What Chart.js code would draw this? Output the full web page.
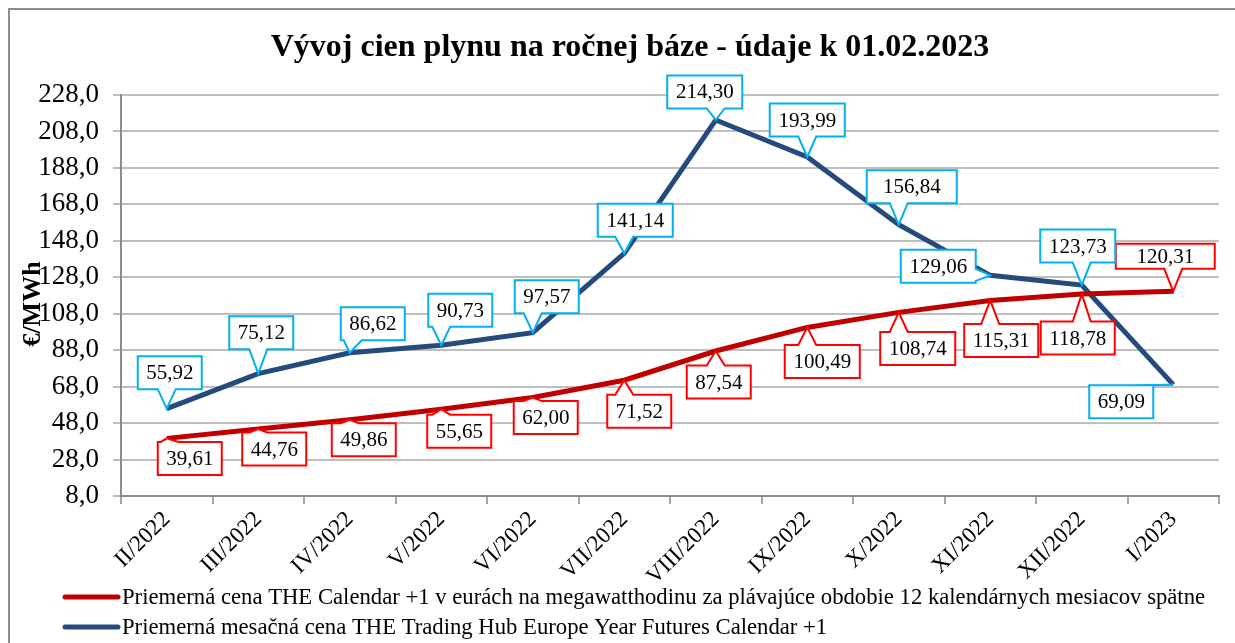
<!DOCTYPE html>
<html>
<head>
<meta charset="utf-8">
<script src="https://cdn.jsdelivr.net/npm/chart.js@4/dist/chart.umd.min.js"></script>
<style>
  html, body { margin: 0; padding: 0; background: #fff; }
  #wrap { width: 1235px; height: 643px; }
</style>
</head>
<body>
<div id="wrap"><canvas id="gasChart"></canvas></div>
<script>
// data
const months = ['II/2022', 'III/2022', 'IV/2022', 'V/2022', 'VI/2022', 'VII/2022',
    'VIII/2022', 'IX/2022', 'X/2022', 'XI/2022', 'XII/2022', 'I/2023'];
const rollingAvg = [39.61, 44.76, 49.86, 55.65, 62.00, 71.52, 87.54, 100.49, 108.74, 115.31, 118.78, 120.31];
const monthlyAvg = [55.92, 75.12, 86.62, 90.73, 97.57, 141.14, 214.30, 193.99, 156.84, 129.06, 123.73, 69.09];
const yTicks = [8, 28, 48, 68, 88, 108, 128, 148, 168, 188, 208, 228];

const chartTitle = 'Vývoj cien plynu na ročnej báze - údaje k 01.02.2023';
const rollingLabel = 'Priemerná cena THE Calendar +1 v eurách na megawatthodinu za plávajúce obdobie 12 kalendárnych mesiacov spätne';
const monthlyLabel = 'Priemerná mesačná cena THE Trading Hub Europe Year Futures Calendar +1';

// callout box placement relative to its point: [dx, dy, width?, height?]
const rollingCallouts = [[23, 20], [16, 20], [14, 20], [18, 22], [13, 20], [15, 31],
    [3, 31], [15, 34], [19, 36], [11, 40], [-4, 44], [-8, -35, 99, 25]];
const monthlyCallouts = [[3, -36], [3, -41], [23, -29], [19, -35], [14, -36], [11, -33],
    [-11, -28], [0, -37], [13, -38, 90], [-52, -9], [-4, -39], [-52, 17]];

const serif = "'Liberation Serif', 'Times New Roman', serif";

function fmt(v, d) {
    return v.toFixed(d).replace('.', ',');
}

// Excel-like callout: rectangle with a pointer running to the data point
function drawCallout(ctx, text, px, py, c, stroke) {
    ctx.font = '21px ' + serif;
    const w = c[2] || Math.round(ctx.measureText(text).width + 17);
    const h = c[3] || 33;
    const cx = px + c[0], cy = py + c[1];
    const l = cx - w / 2, r = cx + w / 2, t = cy - h / 2, b = cy + h / 2;

    let side;
    if (py > b) side = 'bottom';
    else if (py < t) side = 'top';
    else if (px > r) side = 'right';
    else side = 'left';

    const clamp = (v, a, z) => Math.max(a, Math.min(z, v));
    ctx.beginPath();
    ctx.moveTo(l, t);
    if (side === 'top') {
        const m = clamp(px, l + 12, r - 12);
        ctx.lineTo(m - 9, t); ctx.lineTo(px, py); ctx.lineTo(m + 9, t);
    }
    ctx.lineTo(r, t);
    if (side === 'right') {
        const m = clamp(py, t + 8, b - 8);
        ctx.lineTo(r, m - 6); ctx.lineTo(px, py); ctx.lineTo(r, m + 6);
    }
    ctx.lineTo(r, b);
    if (side === 'bottom') {
        const m = clamp(px, l + 12, r - 12);
        ctx.lineTo(m + 9, b); ctx.lineTo(px, py); ctx.lineTo(m - 9, b);
    }
    ctx.lineTo(l, b);
    if (side === 'left') {
        const m = clamp(py, t + 8, b - 8);
        ctx.lineTo(l, m + 6); ctx.lineTo(px, py); ctx.lineTo(l, m - 6);
    }
    ctx.closePath();
    ctx.fillStyle = '#fff';
    ctx.fill();
    ctx.lineWidth = 2;
    ctx.strokeStyle = stroke;
    ctx.stroke();

    ctx.fillStyle = '#000';
    ctx.textAlign = 'center';
    ctx.textBaseline = 'middle';
    ctx.fillText(text, cx, cy + 1);
}

const extras = {
    id: 'extras',
    beforeDraw(chart) {
        const ctx = chart.ctx;
        ctx.save();
        ctx.fillStyle = '#fff';
        ctx.fillRect(0, 0, chart.width, chart.height);
        ctx.strokeStyle = '#8c8c8c';
        ctx.lineWidth = 2;
        ctx.strokeRect(9, 9, chart.width + 20, chart.height + 20);
        ctx.restore();
    },
    afterDatasetsDraw(chart) {
        const ctx = chart.ctx;
        ctx.save();
        const sets = [
            { idx: 0, callouts: rollingCallouts, stroke: '#ff0000' },
            { idx: 1, callouts: monthlyCallouts, stroke: '#00b0f0' }
        ];
        sets.forEach(s => {
            const meta = chart.getDatasetMeta(s.idx);
            const values = chart.data.datasets[s.idx].data;
            meta.data.forEach((pt, i) => {
                drawCallout(ctx, fmt(values[i], 2), pt.x, pt.y, s.callouts[i], s.stroke);
            });
        });
        ctx.restore();
    },
    afterDraw(chart) {
        const ctx = chart.ctx;
        ctx.save();
        ctx.fillStyle = '#000';
        ctx.textAlign = 'center';
        ctx.textBaseline = 'middle';
        // title
        ctx.font = 'bold 32px ' + serif;
        ctx.fillText(chartTitle, 630, 48);
        // y axis title
        ctx.translate(33, 304);
        ctx.rotate(-Math.PI / 2);
        ctx.font = 'bold 26px ' + serif;
        ctx.fillText('€/MWh', 0, 0);
        ctx.restore();

        // legend
        ctx.save();
        ctx.font = '22.7px ' + serif;
        ctx.textBaseline = 'middle';
        chart.data.datasets.forEach((ds, i) => {
            const y = 597 + i * 30;
            ctx.strokeStyle = ds.borderColor;
            ctx.lineWidth = 5;
            ctx.lineCap = 'round';
            ctx.beginPath();
            ctx.moveTo(65, y);
            ctx.lineTo(118, y);
            ctx.stroke();
            ctx.fillStyle = '#000';
            ctx.fillText(ds.label, 122, y + 1);
        });
        ctx.restore();
    }
};

const ctxGas = document.getElementById('gasChart').getContext('2d');
const gasChart = new Chart(ctxGas, {
    type: 'line',
    data: {
        labels: months,
        datasets: [
            {
                label: rollingLabel,
                data: rollingAvg,
                borderColor: '#c00000',
                borderWidth: 5,
                pointRadius: 0,
                tension: 0
            },
            {
                label: monthlyLabel,
                data: monthlyAvg,
                borderColor: '#254a7c',
                borderWidth: 5,
                pointRadius: 0,
                tension: 0
            }
        ]
    },
    options: {
        responsive: true,
        maintainAspectRatio: false,
        animation: false,
        layout: { padding: { top: 95, left: 10, right: 16, bottom: 0 } },
        scales: {
            x: {
                offset: true,
                grid: {
                    offset: true,
                    drawOnChartArea: false,
                    drawTicks: true,
                    tickLength: 8,
                    color: '#a6a6a6',
                    lineWidth: 2
                },
                border: { color: '#8c8c8c', width: 2 },
                ticks: {
                    minRotation: 45,
                    maxRotation: 45,
                    padding: 2,
                    color: '#000',
                    font: { family: serif, size: 23 }
                },
                afterFit(scale) { scale.height = 147; }
            },
            y: {
                min: 8,
                max: 228,
                afterBuildTicks(scale) {
                    scale.ticks = yTicks.map(v => ({ value: v }));
                },
                grid: {
                    color: '#bfbfbf',
                    lineWidth: 2,
                    tickLength: 8
                },
                border: { color: '#8c8c8c', width: 2 },
                ticks: {
                    padding: 14,
                    color: '#000',
                    font: { family: serif, size: 27 },
                    callback: v => fmt(v, 1)
                },
                afterFit(scale) { scale.width = 111; }
            }
        },
        plugins: {
            legend: { display: false },
            tooltip: { enabled: false },
            title: { display: false }
        }
    },
    plugins: [extras]
});
</script>
</body>
</html>
